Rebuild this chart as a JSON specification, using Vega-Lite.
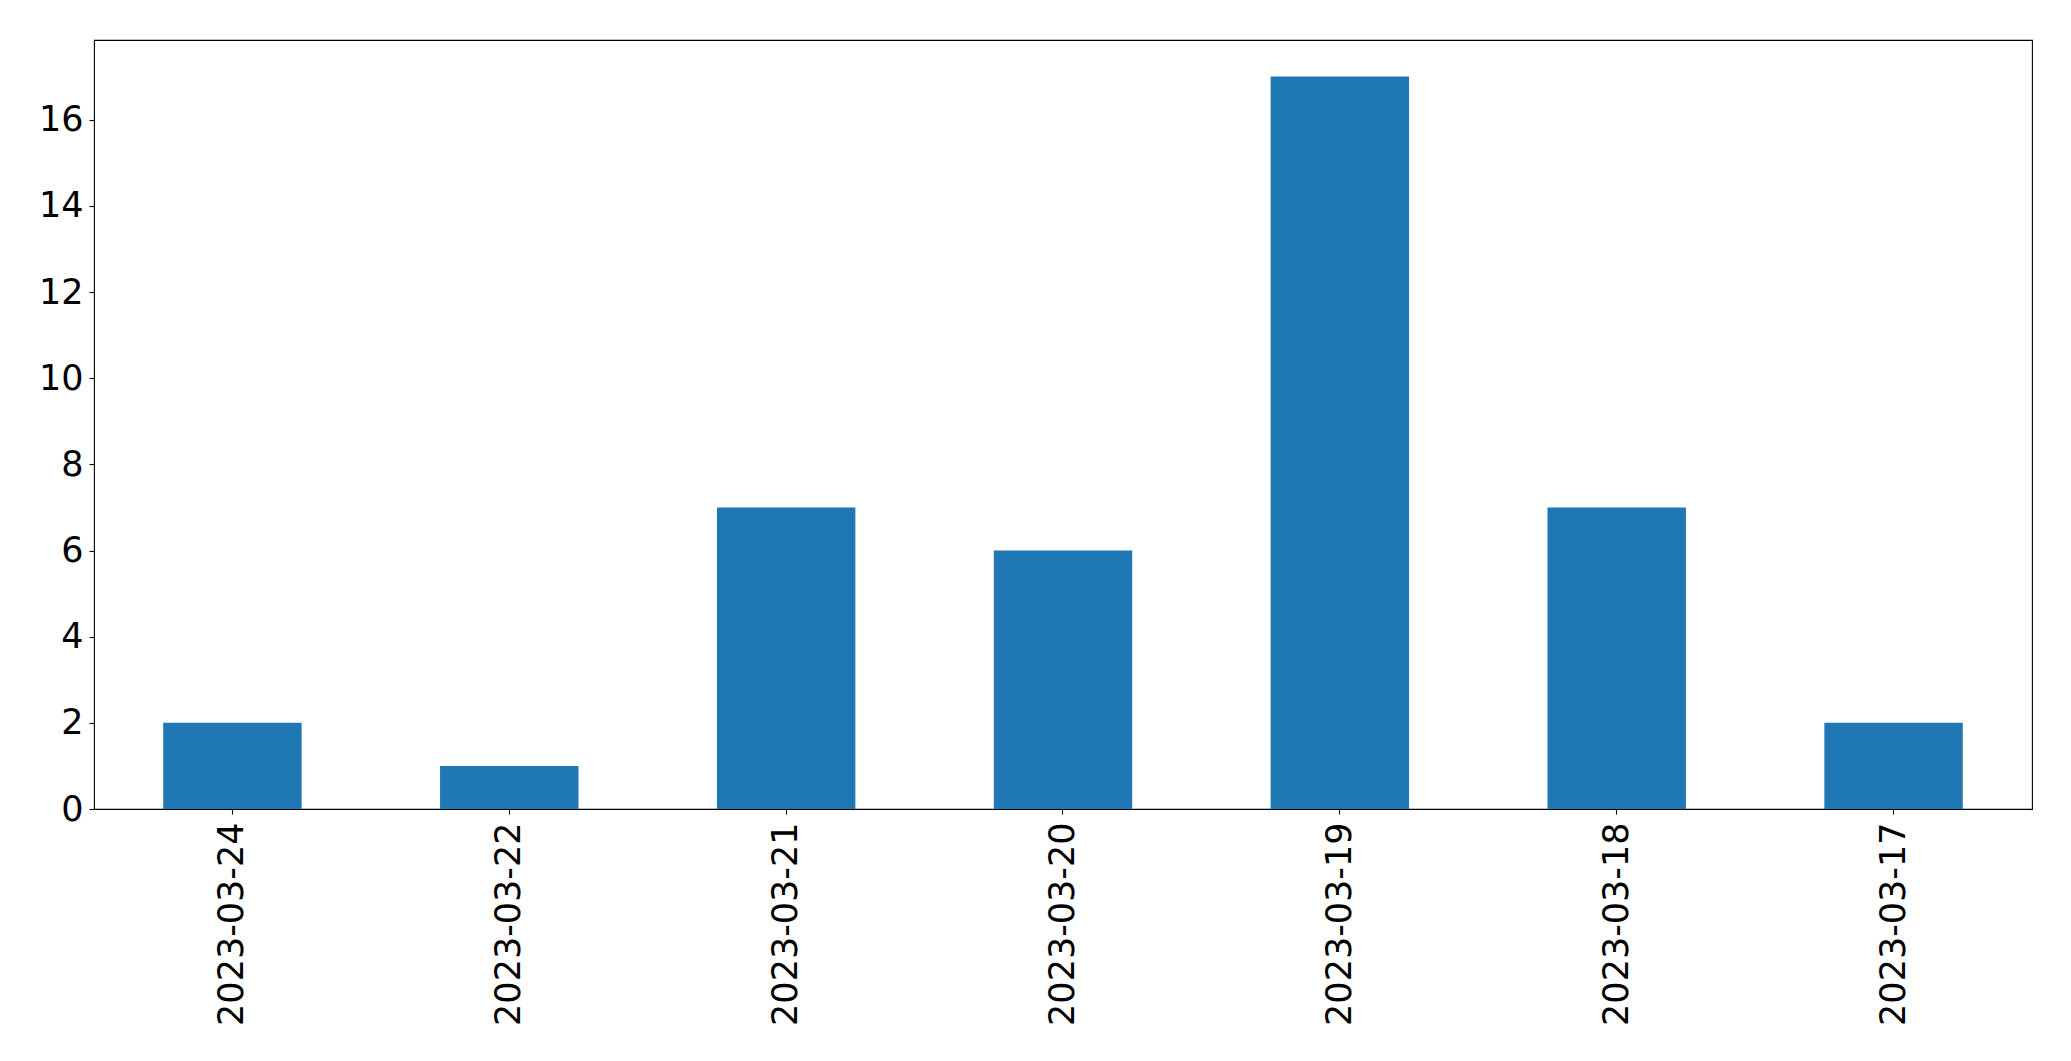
{
  "$schema": "https://vega.github.io/schema/vega-lite/v6.json",
  "width": 1938,
  "height": 769,
  "autosize": {"type": "none"},
  "padding": {"left": 94, "top": 40, "right": 39, "bottom": 252},
  "background": "white",
  "data": {
    "values": [
      {"date": "2023-03-24", "count": 2},
      {"date": "2023-03-22", "count": 1},
      {"date": "2023-03-21", "count": 7},
      {"date": "2023-03-20", "count": 6},
      {"date": "2023-03-19", "count": 17},
      {"date": "2023-03-18", "count": 7},
      {"date": "2023-03-17", "count": 2}
    ]
  },
  "config": {
    "view": {"stroke": "black", "strokeWidth": 1.1},
    "font": "DejaVu Sans",
    "axis": {
      "labelFont": "DejaVu Sans",
      "labelFontSize": 35,
      "labelColor": "black",
      "labelLimit": 0,
      "tickColor": "black",
      "tickSize": 5,
      "tickWidth": 1.1,
      "domain": false,
      "grid": false,
      "title": null
    }
  },
  "mark": {"type": "bar", "color": "#1f77b4"},
  "encoding": {
    "x": {
      "field": "date",
      "type": "nominal",
      "sort": null,
      "scale": {"paddingInner": 0.5, "paddingOuter": 0.25},
      "axis": {"labelAngle": 270, "labelAlign": "right", "labelBaseline": "middle", "labelPadding": 8}
    },
    "y": {
      "field": "count",
      "type": "quantitative",
      "scale": {"domain": [0, 17.85], "nice": false, "zero": true},
      "axis": {"values": [0, 2, 4, 6, 8, 10, 12, 14, 16], "labelPadding": 6, "labelBaseline": "middle"}
    }
  }
}
